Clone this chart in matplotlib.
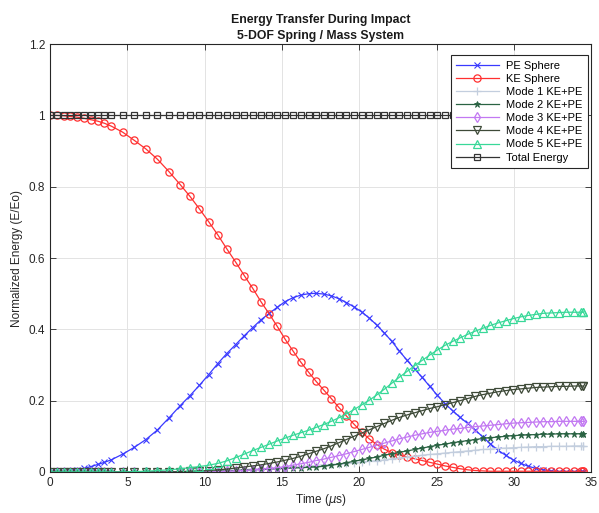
import matplotlib
matplotlib.use("Agg")
from matplotlib import pyplot as plt

plt.rcParams['font.family'] = ['Liberation Sans', 'DejaVu Sans']

# solver output times (microseconds)
time_us = [
    0.0, 0.44, 0.88, 1.32, 1.76, 2.2, 2.64, 3.08, 3.52, 3.96,
    4.7, 5.45, 6.2, 6.95, 7.7, 8.42,
    9.05, 9.66, 10.26, 10.85, 11.43, 12.0, 12.56, 13.11, 13.65, 14.18,
    14.7, 15.21, 15.72, 16.22, 16.72, 17.21, 17.7,
    18.19, 18.68, 19.17, 19.66, 20.15, 20.64, 21.13, 21.62, 22.11, 22.6,
    23.09, 23.58, 24.07, 24.56, 25.05, 25.54, 26.03, 26.52, 27.01, 27.5,
    27.99, 28.48, 28.97, 29.46, 29.95, 30.44, 30.93, 31.42, 31.91, 32.4,
    32.89, 33.38, 33.87, 34.36, 34.45, 34.5,
]

pe_sphere = [
    0.0, 0.0, 0.001, 0.003, 0.006, 0.010, 0.015, 0.021, 0.027, 0.034,
    0.050, 0.069, 0.091, 0.118, 0.152, 0.186,
    0.214, 0.243, 0.273, 0.304, 0.332, 0.357, 0.382, 0.405, 0.427, 0.445,
    0.462, 0.478, 0.489, 0.496, 0.500, 0.501, 0.499,
    0.494, 0.486, 0.475, 0.463, 0.449, 0.432, 0.412, 0.390, 0.366, 0.339,
    0.313, 0.289, 0.265, 0.240, 0.215, 0.192, 0.172, 0.153, 0.136, 0.118,
    0.098, 0.079, 0.061, 0.047, 0.034, 0.024, 0.016, 0.010, 0.006, 0.003,
    0.001, 0.0, 0.0, 0.0, 0.0, 0.0,
]

ke_sphere = [
    1.0, 1.0, 0.999, 0.997, 0.995, 0.992, 0.988, 0.984, 0.978, 0.970,
    0.953, 0.930, 0.906, 0.877, 0.842, 0.806,
    0.773, 0.738, 0.702, 0.665, 0.626, 0.589, 0.551, 0.515, 0.477, 0.443,
    0.408, 0.372, 0.339, 0.308, 0.280, 0.254, 0.230,
    0.206, 0.181, 0.157, 0.134, 0.112, 0.093, 0.077, 0.064, 0.054, 0.047,
    0.042, 0.037, 0.032, 0.027, 0.022, 0.017, 0.013, 0.009, 0.006, 0.004,
    0.003, 0.002, 0.002, 0.002, 0.002, 0.002, 0.002, 0.002, 0.002, 0.002,
    0.002, 0.002, 0.002, 0.002, 0.002, 0.002,
]

mode1 = [
    0.0, 0.0, 0.0, 0.0, 0.0, 0.0, 0.0, 0.0, 0.0, 0.0,
    0.0, 0.0, 0.0, 0.001, 0.001, 0.001,
    0.002, 0.002, 0.003, 0.004, 0.005, 0.006, 0.007, 0.008, 0.009, 0.010,
    0.011, 0.013, 0.014, 0.015, 0.017, 0.018, 0.020,
    0.021, 0.023, 0.024, 0.026, 0.028, 0.030, 0.032, 0.034, 0.037, 0.039,
    0.042, 0.044, 0.047, 0.049, 0.051, 0.053, 0.055, 0.057, 0.059, 0.061,
    0.063, 0.064, 0.066, 0.067, 0.068, 0.069, 0.070, 0.071, 0.071, 0.072,
    0.072, 0.072, 0.073, 0.073, 0.073, 0.073,
]

mode2 = [
    0.0, 0.0, 0.0, 0.0, 0.0, 0.0, 0.0, 0.0, 0.0, 0.0,
    0.0, 0.0, 0.0, 0.0, 0.0, 0.0,
    0.001, 0.001, 0.002, 0.002, 0.003, 0.004, 0.005, 0.006, 0.007, 0.008,
    0.009, 0.010, 0.011, 0.012, 0.013, 0.014, 0.016,
    0.019, 0.022, 0.026, 0.030, 0.034, 0.038, 0.042, 0.047, 0.051, 0.055,
    0.059, 0.063, 0.067, 0.071, 0.075, 0.078, 0.082, 0.085, 0.088, 0.091,
    0.094, 0.096, 0.098, 0.100, 0.102, 0.103, 0.104, 0.105, 0.106, 0.106,
    0.107, 0.107, 0.107, 0.107, 0.107, 0.107,
]

mode3 = [
    0.0, 0.0, 0.0, 0.0, 0.0, 0.0, 0.0, 0.0, 0.0, 0.0,
    0.0, 0.0, 0.0, 0.0, 0.0, 0.0,
    0.0, 0.0, 0.0, 0.001, 0.002, 0.003, 0.004, 0.006, 0.008, 0.010,
    0.012, 0.015, 0.019, 0.023, 0.027, 0.032, 0.036,
    0.041, 0.046, 0.051, 0.057, 0.063, 0.069, 0.075, 0.081, 0.087, 0.093,
    0.098, 0.103, 0.107, 0.111, 0.114, 0.117, 0.120, 0.122, 0.125, 0.127,
    0.129, 0.131, 0.133, 0.135, 0.137, 0.138, 0.139, 0.140, 0.141, 0.141,
    0.142, 0.142, 0.142, 0.142, 0.142, 0.142,
]

mode4 = [
    0.0, 0.0, 0.0, 0.0, 0.0, 0.0, 0.0, 0.0, 0.0, 0.0,
    0.0, 0.0, 0.0, 0.0, 0.0, 0.001,
    0.002, 0.003, 0.004, 0.006, 0.008, 0.011, 0.014, 0.017, 0.020, 0.024,
    0.028, 0.033, 0.038, 0.044, 0.051, 0.058, 0.065,
    0.073, 0.082, 0.091, 0.100, 0.109, 0.118, 0.127, 0.136, 0.145, 0.153,
    0.160, 0.166, 0.172, 0.178, 0.183, 0.189, 0.194, 0.200, 0.206, 0.212,
    0.217, 0.221, 0.225, 0.228, 0.231, 0.233, 0.235, 0.237, 0.238, 0.239,
    0.240, 0.240, 0.241, 0.241, 0.241, 0.241,
]

mode5 = [
    0.0, 0.0, 0.0, 0.0, 0.0, 0.0, 0.0, 0.0, 0.0, 0.0,
    0.0, 0.001, 0.002, 0.004, 0.006, 0.009,
    0.012, 0.015, 0.019, 0.024, 0.031, 0.040, 0.050, 0.060, 0.069, 0.078,
    0.087, 0.095, 0.103, 0.110, 0.117, 0.125, 0.133,
    0.142, 0.152, 0.163, 0.175, 0.188, 0.201, 0.216, 0.232, 0.249, 0.266,
    0.282, 0.298, 0.313, 0.328, 0.342, 0.355, 0.366, 0.376, 0.386, 0.395,
    0.403, 0.411, 0.418, 0.424, 0.430, 0.435, 0.439, 0.442, 0.445, 0.446,
    0.447, 0.448, 0.448, 0.448, 0.448, 0.448,
]

total_energy = [
    1.0, 1.0, 1.0, 1.0, 1.0, 1.0, 1.0, 1.0, 1.0, 1.0,
    1.0, 1.0, 1.0, 1.0, 1.0, 1.0,
    1.0, 1.0, 1.0, 1.0, 1.0, 1.0, 1.0, 1.0, 1.0, 1.0,
    1.0, 1.0, 1.0, 1.0, 1.0, 1.0, 1.0,
    1.0, 1.0, 1.0, 1.0, 1.0, 1.0, 1.0, 1.0, 1.0, 1.0,
    1.0, 1.0, 1.0, 1.0, 1.0, 1.0, 1.0, 1.0, 1.0, 1.0,
    1.0, 1.0, 1.0, 1.0, 1.0, 1.0, 1.0, 1.0, 1.0, 1.0,
    1.0, 1.0, 1.0, 1.0, 1.0, 1.0,
]

series_labels = ['PE Sphere', 'KE Sphere', 'Mode 1 KE+PE', 'Mode 2 KE+PE',
                 'Mode 3 KE+PE', 'Mode 4 KE+PE', 'Mode 5 KE+PE', 'Total Energy']
x_ticks = [0, 5, 10, 15, 20, 25, 30, 35]
y_ticks = [0, 0.2, 0.4, 0.6, 0.8, 1.0, 1.2]
y_tick_labels = ['0', '0.2', '0.4', '0.6', '0.8', '1', '1.2']


def main():
    fig = plt.figure(figsize=(5.99, 5.13), dpi=100)
    ax = fig.add_axes([0.0835, 0.080, 0.9035, 0.834])

    series = [pe_sphere, ke_sphere, mode1, mode2, mode3, mode4, mode5, total_energy]
    styles = [
        dict(color='#3a3aff', marker='x', ms=4, mew=0.8),
        dict(color='#ff3030', marker='o', ms=5.2, mfc='none', mew=0.9),
        dict(color='#c3cede', marker='+', ms=5.5, mew=0.9),
        dict(color='#2a6343', marker='*', ms=5, mew=0.6),
        dict(color='#c278f2', marker='d', ms=5, mfc='none', mew=0.9),
        dict(color='#3e4a38', marker='v', ms=5.3, mfc='none', mew=0.9),
        dict(color='#38d898', marker='^', ms=5.3, mfc='none', mew=0.9),
        dict(color='#333333', marker='s', ms=3.8, mfc='none', mew=0.9),
    ]
    for values, label, style in zip(series, series_labels, styles):
        ax.plot(time_us, values, lw=0.9, label=label, **style)

    ax.set_xlim(0, 35)
    ax.set_ylim(0, 1.2)
    ax.set_xticks(x_ticks)
    ax.set_yticks(y_ticks)
    ax.set_yticklabels(y_tick_labels)
    ax.tick_params(direction='in', top=True, right=True, labelsize=8.5,
                   colors='#262626', length=4, width=0.6)
    ax.grid(True, color='#e3e3e3', lw=0.7)
    ax.set_axisbelow(True)
    for spine in ax.spines.values():
        spine.set_color('#262626')
        spine.set_linewidth(0.8)

    ax.set_xlabel(r'Time ($\mu$s)', fontsize=8.5, color='#262626', labelpad=2)
    ax.set_ylabel('Normalized Energy (E/Eo)', fontsize=8.5, color='#262626', labelpad=4)
    ax.set_title('Energy Transfer During Impact\n5-DOF Spring / Mass System',
                 fontsize=8.8, fontweight='bold', color='#1a1a1a', pad=4,
                 linespacing=1.35)

    leg = ax.legend(loc='upper right', bbox_to_anchor=(0.9945, 0.974),
                    fontsize=8, frameon=True, fancybox=False,
                    edgecolor='#262626', framealpha=1, borderaxespad=0,
                    handlelength=3.8, labelspacing=0.28, borderpad=0.5,
                    handletextpad=0.7)
    leg.get_frame().set_linewidth(0.8)

    fig.savefig('out.png', dpi=100)


if __name__ == "__main__":
    main()
